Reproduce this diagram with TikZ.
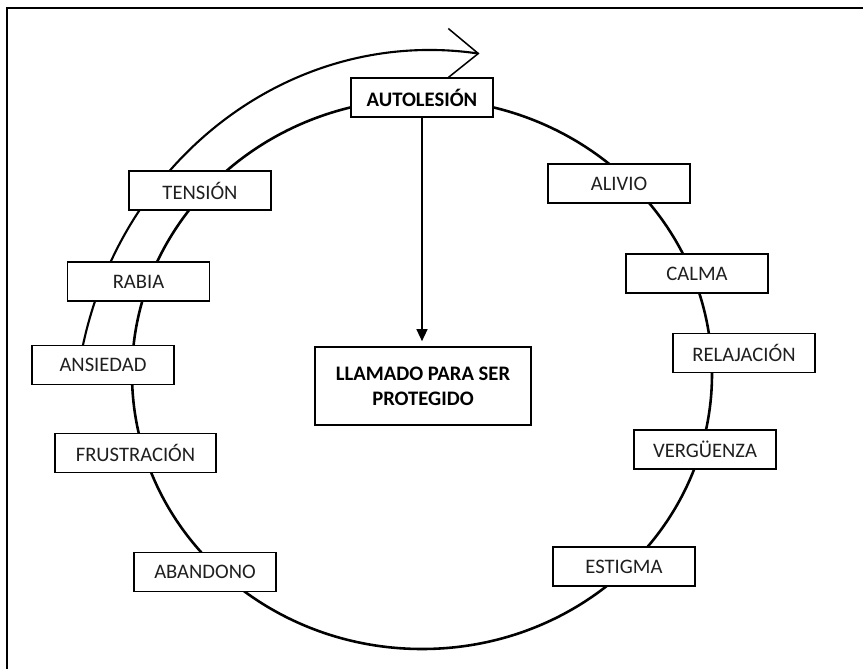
\documentclass[tikz,border=0pt]{standalone}
\usepackage{fontspec}
\setmainfont{Carlito}
\usetikzlibrary{arrows.meta}
\begin{document}
\begin{tikzpicture}[x=0.03cm,y=-0.03cm,
  label box/.style={draw=black, line width=1.4pt, fill=white, inner sep=0pt,
    minimum width=4.26cm, minimum height=1.17cm,
    font=\fontsize{17.6}{21}\selectfont, text=black!88},
  key box/.style={label box, font=\fontsize{17.6}{21.5}\selectfont\bfseries, text=black},
  cycle line/.style={line width=2.2pt},
  sweep line/.style={line width=1.8pt},
  frame line/.style={line width=2pt}]
\useasboundingbox (0,0) rectangle (863,669);

% page frame (top and left edges)
\draw[frame line] (863,8) -- (7,8) -- (7,669);

% the cycle
\draw[cycle line] (422,374) ellipse [x radius=290, y radius=275];

% sweeping open arrow on the left side
\draw[sweep line] (79.4,364.0) arc [start angle=-170, end angle=-82.2, x radius=356, y radius=380]
  coordinate (tip);
\draw[line width=1.3pt] (tip) ++(-30,-25) -- (tip) -- ++(-30,24);

% central boxes
\node[key box] (auto) at (422,97.5) {AUTOLESIÓN};
\node[key box, minimum width=6.48cm, minimum height=2.34cm, align=center] (llamado) at (423,386)
  {LLAMADO PARA SER\\PROTEGIDO};

% left side of the cycle
\node[label box] (tension) at (200,190.5) {TENSIÓN};
\node[label box] (rabia) at (138.5,281.5) {RABIA};
\node[label box] (ansiedad) at (103,365) {ANSIEDAD};
\node[label box, minimum width=4.83cm] (frustracion) at (135.5,453) {FRUSTRACIÓN};
\node[label box] (abandono) at (205,572) {ABANDONO};

% right side of the cycle
\node[label box] (alivio) at (619,183.5) {ALIVIO};
\node[label box] (calma) at (697,273.5) {CALMA};
\node[label box] (relajacion) at (744,353) {RELAJACIÓN};
\node[label box] (verguenza) at (705,449.5) {VERGÜENZA};
\node[label box] (estigma) at (624,566.5) {ESTIGMA};

% self-harm as a call for protection
\draw[line width=1.2pt, -{Triangle[length=3.6mm,width=3.3mm]}, shorten >=0.15cm]
  (auto.south) -- (auto.south |- llamado.north);
\end{tikzpicture}
\end{document}
